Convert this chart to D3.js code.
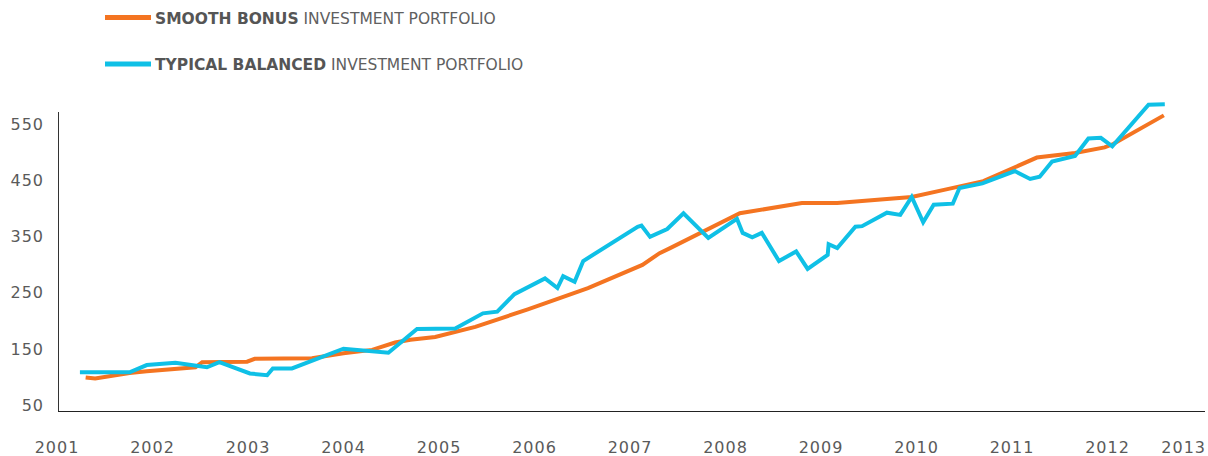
<!DOCTYPE html>
<html lang="en">
<head>
  <meta charset="utf-8">
  <title>Smooth Bonus vs Typical Balanced</title>
  <script src="https://d3js.org/d3.v7.min.js"></script>
  <style>
    html, body {
      margin: 0;
      padding: 0;
      background: #fff;
      font-family: "DejaVu Sans", sans-serif;
    }
    #chart { display: block; }
    .tick-label { fill: #5a5a5a; font-size: 16px; letter-spacing: 1px; }
    .legend-text { fill: #606060; font-size: 15.5px; }
    .legend-text .strong { font-weight: bold; fill: #555; }
  </style>
</head>
<body>
  <svg id="chart" width="1208" height="456"></svg>

  <script>
    // series: [decimal year, value]
    const smoothBonus = [
      [2001.30, 99], [2001.40, 97], [2001.76, 107], [2001.94, 110], [2002.45, 117],
      [2002.52, 126], [2002.99, 127], [2003.07, 132], [2003.67, 133], [2004.00, 142],
      [2004.30, 148], [2004.54, 161], [2004.70, 166], [2004.96, 171], [2005.38, 189],
      [2005.93, 220], [2006.56, 258], [2007.13, 299], [2007.31, 320], [2007.42, 329],
      [2008.15, 391], [2008.80, 409], [2009.17, 409], [2009.95, 420], [2010.30, 433],
      [2010.70, 448], [2011.26, 490], [2011.66, 498], [2011.97, 508], [2012.06, 514],
      [2012.59, 565]
    ];

    const typicalBalanced = [
      [2001.24, 108], [2001.76, 108], [2001.94, 121], [2002.24, 125], [2002.57, 117],
      [2002.70, 126], [2003.02, 106], [2003.20, 103], [2003.26, 115], [2003.46, 115],
      [2004.00, 150], [2004.47, 143], [2004.77, 185], [2005.17, 186], [2005.46, 213],
      [2005.61, 216], [2005.79, 247], [2006.11, 275], [2006.24, 258], [2006.30, 279],
      [2006.42, 269], [2006.51, 306], [2007.08, 367], [2007.12, 369], [2007.21, 349],
      [2007.39, 363], [2007.56, 391], [2007.82, 347], [2008.12, 381], [2008.18, 356],
      [2008.28, 348], [2008.38, 356], [2008.56, 306], [2008.74, 323], [2008.86, 292],
      [2009.07, 317], [2009.08, 336], [2009.17, 329], [2009.36, 367], [2009.43, 368],
      [2009.69, 392], [2009.83, 388], [2009.95, 420], [2010.07, 375], [2010.18, 406],
      [2010.38, 408], [2010.45, 436], [2010.69, 444], [2011.03, 466], [2011.19, 452],
      [2011.29, 456], [2011.42, 483], [2011.66, 493], [2011.80, 524], [2011.93, 525],
      [2012.05, 510], [2012.43, 584], [2012.60, 585]
    ];

    const yTicks = [50, 150, 250, 350, 450, 550];
    const xTicks = d3.range(2001, 2014);

    const legendItems = [
      { strong: 'SMOOTH BONUS', rest: ' INVESTMENT PORTFOLIO', color: '#f47421' },
      { strong: 'TYPICAL BALANCED', rest: ' INVESTMENT PORTFOLIO', color: '#0fc0e6' }
    ];

    const svg = d3.select('#chart');
    const W = 1208;

    const x = d3.scaleLinear().domain([2001, 2013]).range([57, 1203]);
    const y = d3.scaleLinear().domain([39.3, 571]).range([411, 112]);

    // axes lines
    svg.append('line')
      .attr('x1', 58.5).attr('x2', 58.5)
      .attr('y1', y.range()[1]).attr('y2', y.range()[0])
      .attr('stroke', '#333').attr('stroke-width', 1);
    svg.append('line')
      .attr('x1', 58).attr('x2', W - 3)
      .attr('y1', 411.5).attr('y2', 411.5)
      .attr('stroke', '#222').attr('stroke-width', 1.2);

    // y tick labels
    svg.selectAll('text.ylab')
      .data(yTicks)
      .enter().append('text')
        .attr('class', 'tick-label ylab')
        .attr('x', 44)
        .attr('y', d => y(d))
        .attr('dy', '0.36em')
        .attr('text-anchor', 'end')
        .text(d => d);

    // x tick labels
    svg.selectAll('text.xlab')
      .data(xTicks)
      .enter().append('text')
        .attr('class', 'tick-label xlab')
        .attr('x', (d, i) => i === xTicks.length - 1 ? W - 2 : x(d))
        .attr('y', 447)
        .attr('dy', '0.36em')
        .attr('text-anchor', (d, i) => i === xTicks.length - 1 ? 'end' : 'middle')
        .text(d => d);

    const line = d3.line().x(d => x(d[0])).y(d => y(d[1]));

    svg.append('path')
      .datum(smoothBonus)
      .attr('fill', 'none')
      .attr('stroke', legendItems[0].color)
      .attr('stroke-width', 4)
      .attr('d', line);

    svg.append('path')
      .datum(typicalBalanced)
      .attr('fill', 'none')
      .attr('stroke', legendItems[1].color)
      .attr('stroke-width', 4)
      .attr('d', line);

    // legend
    const lg = svg.selectAll('g.legend')
      .data(legendItems)
      .enter().append('g')
        .attr('class', 'legend')
        .attr('transform', (d, i) => `translate(105,${17.5 + i * 46.5})`);
    lg.append('line')
      .attr('x1', 0).attr('x2', 46)
      .attr('stroke', d => d.color)
      .attr('stroke-width', 5);
    const lt = lg.append('text')
      .attr('class', 'legend-text')
      .attr('x', 50)
      .attr('y', 6);
    lt.append('tspan').attr('class', 'strong').text(d => d.strong);
    lt.append('tspan').text(d => d.rest);
  </script>
</body>
</html>
